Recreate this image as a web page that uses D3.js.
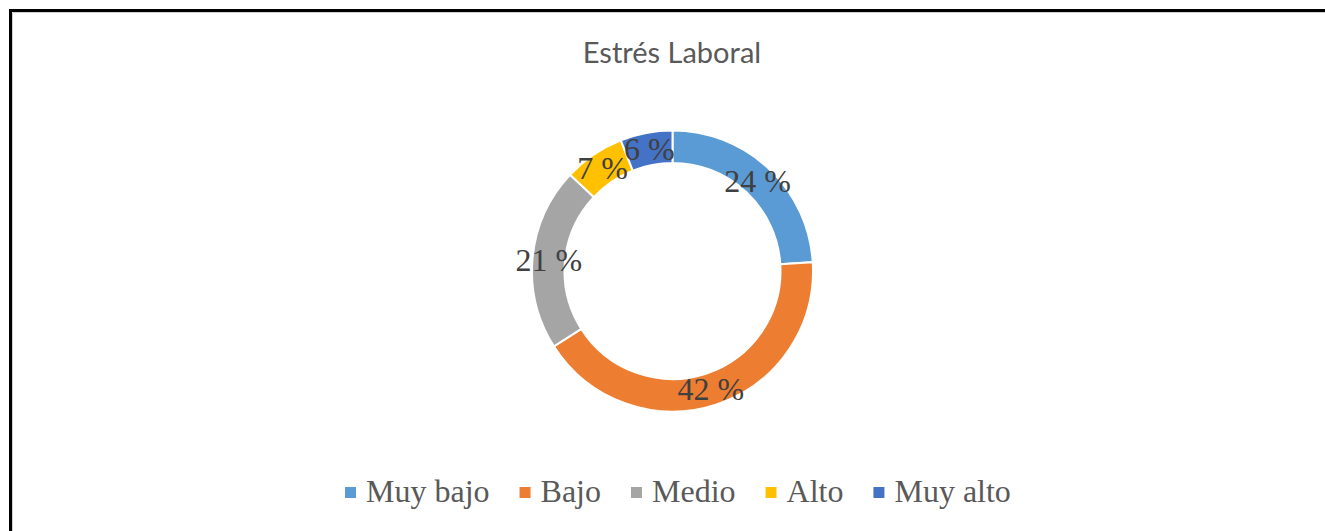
<!DOCTYPE html>
<html><head><meta charset="utf-8">
<script src="https://cdn.jsdelivr.net/npm/d3@7"></script>
<style>body{margin:0;background:#fff}svg{display:block}</style>
</head><body>
<script>
const title = "Estrés Laboral";
const categories = ["Muy bajo","Bajo","Medio","Alto","Muy alto"];
const values = [24,42,21,7,6];
const labels = ["24 %","42 %","21 %","7 %","6 %"];
const colors = ["#5B9BD5","#ED7D31","#A5A5A5","#FFC000","#4472C4"];

const W=1325,H=531;
const svg=d3.select("body").append("svg").attr("width",W).attr("height",H);
svg.append("rect").attr("width",W).attr("height",H).attr("fill","#fff");
// frame
svg.append("path").attr("d",`M12.5,${H+5}V12.5H${W+5}`).attr("fill","none").attr("stroke","#d0d0d0").attr("stroke-width",1);
svg.append("path").attr("d",`M10.5,${H+5}V10.5H${W+5}`).attr("fill","none").attr("stroke","#000").attr("stroke-width",3);

svg.append("text").attr("x",672).attr("y",63).attr("text-anchor","middle")
  .attr("font-family","Lato, 'Open Sans', sans-serif").attr("font-size",29).attr("fill","#595959").text(title);

const cx=672.5, cy=271, R=140.5, r=108;
const pie=d3.pie().sort(null).value(d=>d)(values);
const arc=d3.arc().innerRadius(r).outerRadius(R);
const g=svg.append("g").attr("transform",`translate(${cx},${cy})`);
g.selectAll("path").data(pie).join("path").attr("d",arc)
  .attr("fill",(d,i)=>colors[i]).attr("stroke","#fff").attr("stroke-width",2);
g.selectAll("text").data(pie).join("text")
  .attr("transform",d=>`translate(${arc.centroid(d)})`)
  .attr("text-anchor","middle").attr("dy","0.35em")
  .attr("font-family","'Liberation Serif', 'Times New Roman', serif").attr("font-size",32).attr("fill","#404040")
  .text((d,i)=>labels[i]);

// legend
const lg=svg.append("g");
const fs=32, gapSw=10, gapItem=30, sw=11;
const items=lg.selectAll("g").data(categories).join("g");
items.append("rect").attr("width",sw).attr("height",sw).attr("y",487).attr("fill",(d,i)=>colors[i]);
items.append("text").attr("y",502).attr("font-family","'Liberation Serif', 'Times New Roman', serif")
  .attr("font-size",fs).attr("fill","#595959").attr("x",sw+gapSw).text(d=>d);
let widths=[];
items.each(function(){widths.push(d3.select(this).select("text").node().getComputedTextLength()+sw+gapSw);});
let x0=345;
items.attr("transform",(d,i)=>{const t=`translate(${x0},0)`;x0+=widths[i]+gapItem;return t;});
</script>
</body></html>
